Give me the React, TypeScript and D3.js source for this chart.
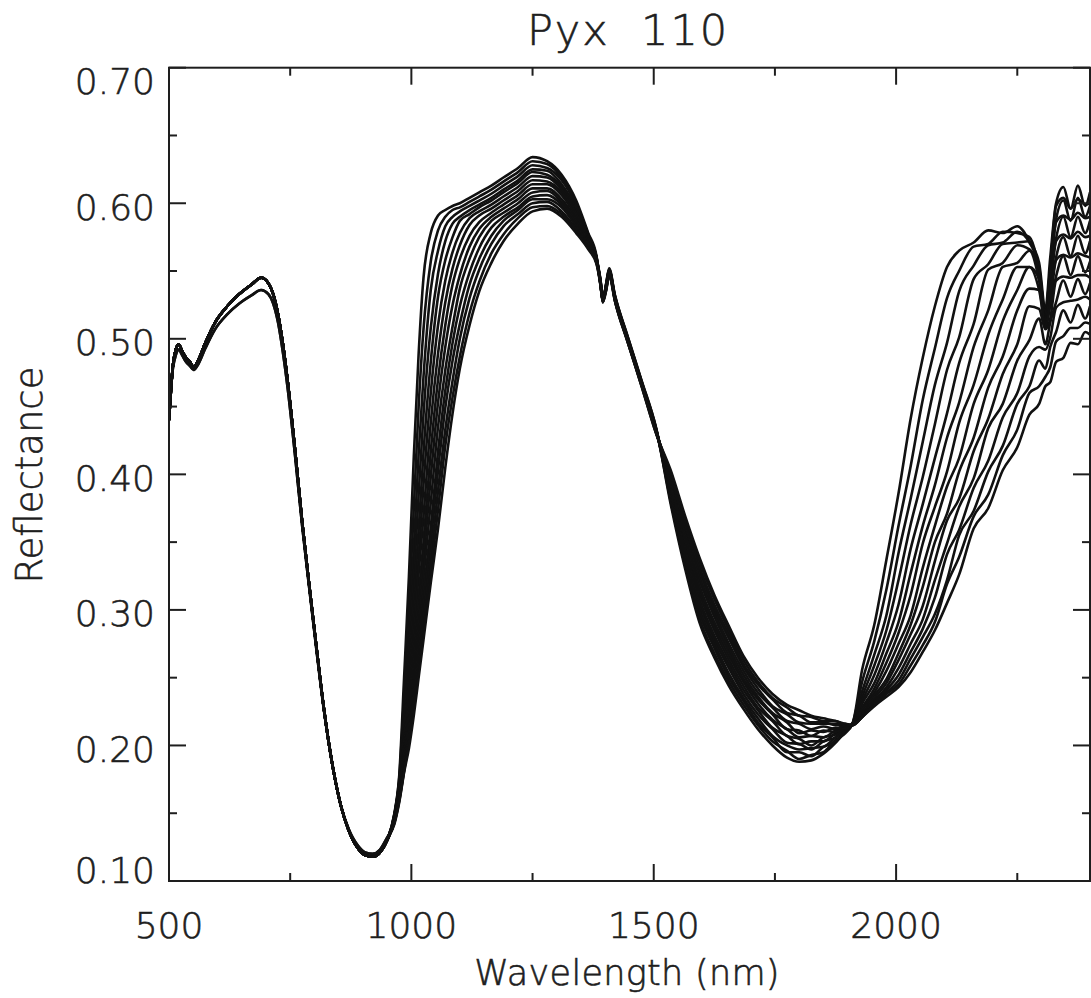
import React from 'react';
import * as d3 from 'd3';

// ---------- text ----------
const titleText = 'Pyx  110';
const xAxisTitle = 'Wavelength (nm)';
const yAxisTitle = 'Reflectance';

// ---------- axes ----------
const xMajorTicks = [500, 1000, 1500, 2000];
const xMinorTicks = [750, 1250, 1750, 2250];
const xTickLabels = ['500', '1000', '1500', '2000'];
const yMajorTicks = [0.1, 0.2, 0.3, 0.4, 0.5, 0.6, 0.7];
const yMinorTicks = [0.15, 0.25, 0.35, 0.45, 0.55, 0.65];
const yTickLabels = ['0.10', '0.20', '0.30', '0.40', '0.50', '0.60', '0.70'];

// ---------- data: visible region (shared by the spectra) ----------
const visWavelengths = [500, 504, 508, 514, 520, 527, 535, 543, 551, 560, 575, 595, 620, 645, 670, 690, 705, 715, 725, 735, 745, 760, 775, 790, 805, 820, 840, 855, 870, 890, 905, 920, 935, 950];
const visUpper = [0.440, 0.462, 0.480, 0.492, 0.496, 0.491, 0.486, 0.483, 0.479, 0.484, 0.497, 0.512, 0.524, 0.533, 0.540, 0.545, 0.541, 0.533, 0.518, 0.496, 0.468, 0.418, 0.364, 0.316, 0.270, 0.226, 0.180, 0.155, 0.138, 0.124, 0.119, 0.118, 0.121, 0.130];
const visLower = [0.445, 0.465, 0.478, 0.488, 0.492, 0.488, 0.483, 0.480, 0.477, 0.481, 0.493, 0.507, 0.518, 0.526, 0.532, 0.536, 0.533, 0.526, 0.512, 0.490, 0.463, 0.414, 0.361, 0.314, 0.268, 0.225, 0.180, 0.155, 0.139, 0.126, 0.121, 0.120, 0.123, 0.132];

// ---------- data: band I long-wavelength edge (one row per spectrum) ----------
const band1Wavelengths = [965, 975, 985, 995, 1005, 1015, 1025, 1040, 1055, 1070, 1085, 1100, 1120, 1140, 1165, 1190, 1220, 1250];
const band1Edge = [
  [0.150, 0.178, 0.250, 0.325, 0.413, 0.489, 0.545, 0.578, 0.591, 0.595, 0.598, 0.600, 0.604, 0.608, 0.613, 0.619, 0.626, 0.634],
  [0.149, 0.176, 0.237, 0.301, 0.375, 0.450, 0.507, 0.557, 0.580, 0.590, 0.595, 0.597, 0.601, 0.605, 0.610, 0.616, 0.623, 0.631],
  [0.149, 0.173, 0.226, 0.283, 0.345, 0.415, 0.472, 0.536, 0.565, 0.583, 0.590, 0.594, 0.598, 0.602, 0.607, 0.613, 0.620, 0.628],
  [0.148, 0.172, 0.217, 0.269, 0.324, 0.385, 0.444, 0.508, 0.548, 0.572, 0.585, 0.590, 0.595, 0.599, 0.604, 0.610, 0.617, 0.625],
  [0.148, 0.172, 0.209, 0.257, 0.307, 0.359, 0.416, 0.483, 0.531, 0.558, 0.575, 0.587, 0.592, 0.597, 0.602, 0.608, 0.615, 0.623],
  [0.147, 0.171, 0.203, 0.247, 0.293, 0.339, 0.392, 0.460, 0.510, 0.543, 0.564, 0.578, 0.589, 0.594, 0.599, 0.605, 0.612, 0.620],
  [0.147, 0.169, 0.198, 0.240, 0.280, 0.327, 0.369, 0.438, 0.489, 0.527, 0.552, 0.569, 0.584, 0.591, 0.596, 0.602, 0.609, 0.617],
  [0.146, 0.168, 0.194, 0.231, 0.270, 0.310, 0.350, 0.417, 0.470, 0.510, 0.540, 0.559, 0.576, 0.586, 0.593, 0.599, 0.606, 0.614],
  [0.145, 0.166, 0.192, 0.225, 0.261, 0.298, 0.336, 0.398, 0.453, 0.494, 0.525, 0.547, 0.568, 0.581, 0.590, 0.596, 0.603, 0.611],
  [0.145, 0.164, 0.189, 0.219, 0.252, 0.288, 0.324, 0.379, 0.435, 0.477, 0.509, 0.537, 0.559, 0.575, 0.587, 0.593, 0.600, 0.608],
  [0.144, 0.163, 0.186, 0.214, 0.245, 0.279, 0.312, 0.361, 0.417, 0.462, 0.497, 0.524, 0.549, 0.567, 0.582, 0.590, 0.597, 0.605],
  [0.144, 0.161, 0.184, 0.209, 0.239, 0.271, 0.303, 0.350, 0.403, 0.449, 0.484, 0.511, 0.540, 0.559, 0.576, 0.587, 0.595, 0.603],
  [0.143, 0.160, 0.182, 0.206, 0.234, 0.263, 0.294, 0.338, 0.388, 0.433, 0.469, 0.500, 0.530, 0.551, 0.570, 0.583, 0.592, 0.600],
  [0.143, 0.159, 0.181, 0.202, 0.228, 0.256, 0.285, 0.328, 0.374, 0.421, 0.457, 0.487, 0.519, 0.542, 0.563, 0.577, 0.589, 0.597],
  [0.142, 0.158, 0.180, 0.198, 0.222, 0.250, 0.278, 0.320, 0.360, 0.405, 0.445, 0.478, 0.510, 0.535, 0.556, 0.572, 0.585, 0.594],
];

// ---------- data: 1.25 um peak and 1.4 um feature ----------
const peakWavelengths = [1280, 1310, 1340, 1365, 1382, 1390, 1395, 1402, 1408, 1420, 1445, 1475, 1505];
const peakRegion = [
  [0.631, 0.621, 0.602, 0.578, 0.561, 0.541, 0.527, 0.540, 0.551, 0.532, 0.503, 0.469, 0.434],
  [0.629, 0.619, 0.600, 0.577, 0.560, 0.542, 0.529, 0.538, 0.550, 0.531, 0.502, 0.468, 0.433],
  [0.626, 0.617, 0.599, 0.576, 0.560, 0.540, 0.528, 0.541, 0.552, 0.532, 0.503, 0.469, 0.434],
  [0.624, 0.614, 0.597, 0.575, 0.560, 0.543, 0.530, 0.539, 0.549, 0.530, 0.501, 0.467, 0.433],
  [0.621, 0.612, 0.595, 0.575, 0.559, 0.541, 0.527, 0.537, 0.551, 0.531, 0.502, 0.468, 0.433],
  [0.619, 0.610, 0.593, 0.574, 0.559, 0.544, 0.529, 0.540, 0.550, 0.530, 0.501, 0.467, 0.432],
  [0.616, 0.608, 0.592, 0.573, 0.559, 0.542, 0.531, 0.538, 0.548, 0.531, 0.502, 0.468, 0.433],
  [0.614, 0.606, 0.590, 0.572, 0.558, 0.540, 0.528, 0.541, 0.551, 0.529, 0.500, 0.466, 0.432],
  [0.611, 0.603, 0.588, 0.571, 0.558, 0.543, 0.530, 0.539, 0.549, 0.530, 0.501, 0.467, 0.432],
  [0.609, 0.601, 0.587, 0.570, 0.558, 0.541, 0.527, 0.536, 0.550, 0.529, 0.500, 0.466, 0.431],
  [0.606, 0.599, 0.585, 0.569, 0.557, 0.544, 0.529, 0.540, 0.548, 0.530, 0.501, 0.467, 0.432],
  [0.603, 0.597, 0.583, 0.569, 0.557, 0.542, 0.528, 0.538, 0.549, 0.528, 0.499, 0.466, 0.431],
  [0.601, 0.594, 0.581, 0.568, 0.556, 0.540, 0.530, 0.537, 0.547, 0.529, 0.500, 0.466, 0.431],
  [0.598, 0.592, 0.580, 0.567, 0.556, 0.543, 0.527, 0.539, 0.548, 0.528, 0.499, 0.465, 0.430],
  [0.596, 0.590, 0.578, 0.566, 0.555, 0.541, 0.529, 0.536, 0.546, 0.528, 0.499, 0.465, 0.430],
];

// ---------- data: band II short-wavelength side and minimum ----------
const band2LeftWavelengths = [1535, 1565, 1595, 1625, 1655, 1685, 1715, 1745, 1775, 1800, 1825, 1850, 1875, 1895, 1910];
const band2Left = [
  [0.378, 0.330, 0.290, 0.265, 0.244, 0.227, 0.212, 0.200, 0.191, 0.188, 0.189, 0.194, 0.202, 0.210, 0.216],
  [0.380, 0.333, 0.293, 0.268, 0.247, 0.230, 0.215, 0.203, 0.196, 0.190, 0.193, 0.195, 0.204, 0.209, 0.216],
  [0.382, 0.336, 0.297, 0.272, 0.250, 0.233, 0.217, 0.206, 0.195, 0.195, 0.192, 0.199, 0.203, 0.211, 0.216],
  [0.383, 0.338, 0.300, 0.275, 0.253, 0.235, 0.220, 0.207, 0.200, 0.197, 0.198, 0.199, 0.206, 0.211, 0.216],
  [0.385, 0.341, 0.304, 0.278, 0.257, 0.238, 0.223, 0.212, 0.202, 0.201, 0.197, 0.203, 0.206, 0.212, 0.216],
  [0.387, 0.344, 0.307, 0.281, 0.260, 0.241, 0.226, 0.213, 0.207, 0.201, 0.203, 0.203, 0.209, 0.212, 0.216],
  [0.389, 0.347, 0.311, 0.285, 0.263, 0.244, 0.228, 0.218, 0.207, 0.205, 0.200, 0.206, 0.208, 0.213, 0.216],
  [0.391, 0.350, 0.314, 0.288, 0.266, 0.247, 0.231, 0.219, 0.212, 0.206, 0.207, 0.206, 0.211, 0.213, 0.216],
  [0.392, 0.352, 0.317, 0.291, 0.269, 0.249, 0.234, 0.223, 0.212, 0.211, 0.207, 0.211, 0.210, 0.214, 0.215],
  [0.394, 0.355, 0.321, 0.295, 0.272, 0.252, 0.236, 0.224, 0.217, 0.209, 0.211, 0.210, 0.213, 0.213, 0.215],
  [0.396, 0.358, 0.324, 0.298, 0.275, 0.255, 0.239, 0.228, 0.218, 0.216, 0.212, 0.214, 0.212, 0.215, 0.215],
  [0.398, 0.361, 0.328, 0.301, 0.279, 0.258, 0.242, 0.229, 0.223, 0.217, 0.216, 0.216, 0.216, 0.214, 0.215],
  [0.399, 0.363, 0.331, 0.304, 0.282, 0.260, 0.245, 0.234, 0.224, 0.222, 0.217, 0.217, 0.215, 0.216, 0.215],
  [0.401, 0.366, 0.335, 0.308, 0.285, 0.263, 0.247, 0.235, 0.228, 0.222, 0.221, 0.218, 0.218, 0.215, 0.215],
  [0.403, 0.369, 0.338, 0.311, 0.288, 0.266, 0.250, 0.238, 0.230, 0.226, 0.222, 0.220, 0.218, 0.216, 0.215],
];

// ---------- data: band II long-wavelength edge ----------
const band2RightWavelengths = [1930, 1955, 1980, 2005, 2030, 2055, 2080, 2105, 2130, 2160, 2190, 2220, 2250, 2275, 2295, 2308, 2318, 2330, 2345, 2360, 2375, 2390, 2400];
const band2Right = [
  [0.256, 0.289, 0.337, 0.386, 0.441, 0.486, 0.524, 0.553, 0.565, 0.571, 0.580, 0.578, 0.583, 0.572, 0.556, 0.522, 0.560, 0.600, 0.612, 0.596, 0.613, 0.598, 0.608],
  [0.247, 0.277, 0.315, 0.362, 0.406, 0.455, 0.493, 0.530, 0.550, 0.568, 0.570, 0.579, 0.578, 0.575, 0.551, 0.520, 0.553, 0.598, 0.604, 0.596, 0.603, 0.599, 0.600],
  [0.240, 0.267, 0.296, 0.342, 0.382, 0.424, 0.466, 0.497, 0.535, 0.554, 0.569, 0.571, 0.579, 0.571, 0.553, 0.517, 0.552, 0.588, 0.602, 0.587, 0.604, 0.590, 0.598],
  [0.236, 0.259, 0.285, 0.322, 0.363, 0.398, 0.437, 0.477, 0.501, 0.544, 0.555, 0.570, 0.571, 0.572, 0.548, 0.519, 0.546, 0.586, 0.591, 0.588, 0.593, 0.589, 0.590],
  [0.233, 0.252, 0.276, 0.304, 0.345, 0.378, 0.412, 0.445, 0.482, 0.511, 0.551, 0.556, 0.569, 0.566, 0.550, 0.515, 0.545, 0.574, 0.590, 0.575, 0.590, 0.578, 0.587],
  [0.231, 0.246, 0.268, 0.291, 0.327, 0.362, 0.392, 0.427, 0.453, 0.494, 0.521, 0.553, 0.556, 0.565, 0.543, 0.515, 0.536, 0.572, 0.577, 0.574, 0.579, 0.575, 0.576],
  [0.228, 0.242, 0.261, 0.283, 0.311, 0.349, 0.376, 0.402, 0.438, 0.466, 0.503, 0.529, 0.553, 0.553, 0.544, 0.511, 0.535, 0.560, 0.575, 0.561, 0.576, 0.563, 0.572],
  [0.227, 0.239, 0.255, 0.275, 0.296, 0.331, 0.362, 0.391, 0.412, 0.452, 0.477, 0.513, 0.536, 0.553, 0.536, 0.512, 0.526, 0.558, 0.562, 0.560, 0.563, 0.561, 0.560],
  [0.226, 0.237, 0.249, 0.268, 0.289, 0.317, 0.350, 0.371, 0.402, 0.427, 0.464, 0.487, 0.521, 0.537, 0.536, 0.508, 0.525, 0.546, 0.561, 0.547, 0.561, 0.549, 0.557],
  [0.224, 0.235, 0.246, 0.263, 0.282, 0.303, 0.336, 0.366, 0.382, 0.417, 0.441, 0.474, 0.496, 0.524, 0.522, 0.507, 0.515, 0.543, 0.546, 0.545, 0.547, 0.547, 0.545],
  [0.223, 0.233, 0.243, 0.257, 0.275, 0.293, 0.322, 0.349, 0.376, 0.397, 0.434, 0.452, 0.484, 0.499, 0.515, 0.496, 0.512, 0.527, 0.543, 0.531, 0.544, 0.533, 0.541],
  [0.222, 0.232, 0.241, 0.252, 0.269, 0.286, 0.309, 0.341, 0.359, 0.390, 0.410, 0.442, 0.460, 0.487, 0.494, 0.492, 0.501, 0.523, 0.527, 0.528, 0.529, 0.531, 0.529],
  [0.221, 0.231, 0.239, 0.248, 0.264, 0.280, 0.297, 0.322, 0.355, 0.373, 0.402, 0.421, 0.452, 0.465, 0.484, 0.478, 0.494, 0.505, 0.521, 0.512, 0.525, 0.515, 0.524],
  [0.221, 0.230, 0.238, 0.245, 0.259, 0.274, 0.291, 0.319, 0.339, 0.369, 0.385, 0.414, 0.433, 0.460, 0.465, 0.472, 0.479, 0.498, 0.502, 0.508, 0.508, 0.512, 0.511],
  [0.221, 0.229, 0.236, 0.243, 0.254, 0.269, 0.285, 0.305, 0.326, 0.360, 0.375, 0.403, 0.420, 0.444, 0.452, 0.465, 0.468, 0.483, 0.486, 0.497, 0.496, 0.505, 0.503],
];

const FONT = "'DejaVu Sans', 'Liberation Sans', sans-serif";
const INK = '#1e1e1e';

export default function App() {
  const left = 169, right = 1090, top = 67.7, bottom = 881;
  const x = d3.scaleLinear().domain([500, 2400]).range([left, right]);
  const y = d3.scaleLinear().domain([0.1, 0.7]).range([bottom, top]);

  const allWavelengths = [
    ...visWavelengths,
    ...band1Wavelengths,
    ...peakWavelengths,
    ...band2LeftWavelengths,
    ...band2RightWavelengths,
  ];
  const series = band1Edge.map((row, i) => {
    const vals = [
      ...(i >= 13 ? visLower : visUpper),
      ...row,
      ...peakRegion[i],
      ...band2Left[i],
      ...band2Right[i],
    ];
    return allWavelengths.map((w, k) => [w, vals[k]] as [number, number]);
  });

  const line = d3
    .line<[number, number]>()
    .x((d) => x(d[0]))
    .y((d) => y(d[1]))
    .curve(d3.curveMonotoneX);

  const majorLen = 17;
  const minorLen = 8;
  const textProps = {
    fontFamily: FONT,
    fontWeight: 200,
    fill: INK,
    stroke: INK,
    strokeWidth: 0.6,
  };

  return (
    <div style={{ position: 'absolute', left: 0, top: 0, background: '#fff' }}>
      <svg width={1091} height={998} style={{ display: 'block' }}>
        <rect x={0} y={0} width={1091} height={998} fill="#fff" />
        <defs>
          <clipPath id="plotClip">
            <rect x={left} y={top} width={right - left} height={bottom - top} />
          </clipPath>
        </defs>
        <g clipPath="url(#plotClip)">
          {series.map((pts, i) => (
            <path key={i} d={line(pts) || ''} fill="none" stroke="#111" strokeWidth={2.6} strokeLinejoin="round" />
          ))}
        </g>

        {/* frame */}
        <rect x={left} y={top} width={right - left} height={bottom - top} fill="none" stroke={INK} strokeWidth={2} />

        {/* x ticks bottom & top */}
        {xMajorTicks.map((t) => (
          <g key={'xm' + t}>
            <line x1={x(t)} x2={x(t)} y1={bottom} y2={bottom - majorLen} stroke={INK} strokeWidth={2} />
            <line x1={x(t)} x2={x(t)} y1={top} y2={top + majorLen} stroke={INK} strokeWidth={2} />
          </g>
        ))}
        {xMinorTicks.map((t) => (
          <g key={'xn' + t}>
            <line x1={x(t)} x2={x(t)} y1={bottom} y2={bottom - minorLen} stroke={INK} strokeWidth={2} />
            <line x1={x(t)} x2={x(t)} y1={top} y2={top + minorLen} stroke={INK} strokeWidth={2} />
          </g>
        ))}
        {/* y ticks left & right */}
        {yMajorTicks.map((t) => (
          <g key={'ym' + t}>
            <line x1={left} x2={left + majorLen} y1={y(t)} y2={y(t)} stroke={INK} strokeWidth={2} />
            <line x1={right} x2={right - majorLen} y1={y(t)} y2={y(t)} stroke={INK} strokeWidth={2} />
          </g>
        ))}
        {yMinorTicks.map((t) => (
          <g key={'yn' + t}>
            <line x1={left} x2={left + minorLen} y1={y(t)} y2={y(t)} stroke={INK} strokeWidth={2} />
            <line x1={right} x2={right - minorLen} y1={y(t)} y2={y(t)} stroke={INK} strokeWidth={2} />
          </g>
        ))}

        {/* tick labels */}
        {xMajorTicks.map((t, i) => (
          <text key={'xl' + t} x={x(t)} y={938} textAnchor="middle" fontSize={36} {...textProps}>
            {xTickLabels[i]}
          </text>
        ))}
        {yMajorTicks.map((t, i) => {
          const dy = i === 0 ? 2 : i === yMajorTicks.length - 1 ? 26.5 : 16.5;
          return (
            <text key={'yl' + t} x={155} y={y(t) + dy} textAnchor="end" fontSize={36} {...textProps}>
              {yTickLabels[i]}
            </text>
          );
        })}

        {/* titles */}
        <text x={628} y={45} textAnchor="middle" fontSize={43} style={{ whiteSpace: 'pre' }} letterSpacing={2} {...textProps}>
          {titleText}
        </text>
        <text x={627} y={985} textAnchor="middle" fontSize={35} letterSpacing={0.3} {...textProps}>
          {xAxisTitle}
        </text>
        <text transform={`translate(42, 475) rotate(-90)`} textAnchor="middle" fontSize={37} {...textProps}>
          {yAxisTitle}
        </text>
      </svg>
    </div>
  );
}
